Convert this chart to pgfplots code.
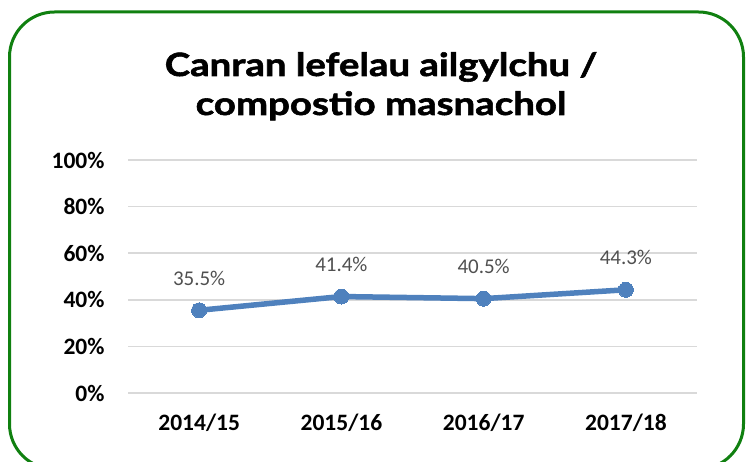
\documentclass[border=0pt]{standalone}
\usepackage{fontspec}
\setmainfont{Carlito}
\newfontfamily\titlefont[FakeStretch=1.2,BoldFeatures={FakeBold=1.8}]{Lato}
\usepackage{pgfplots}
\pgfplotsset{compat=1.18}
\definecolor{lineblue}{RGB}{79,129,189}
\definecolor{gridgray}{RGB}{217,217,217}
\definecolor{framegreen}{RGB}{16,128,16}
\definecolor{labelgray}{RGB}{80,80,80}
\begin{document}
\begin{tikzpicture}
\useasboundingbox (0,0) rectangle (747pt,461pt);
\draw[framegreen, line width=3pt, rounded corners=45pt] (9.5pt,-8pt) rectangle (743.5pt,449pt);
\node[anchor=base, font=\titlefont\bfseries\fontsize{32}{38}\selectfont, inner sep=0pt] at (381pt,385pt) {Canran lefelau ailgylchu /};
\node[anchor=base, font=\titlefont\bfseries\fontsize{32}{38}\selectfont, inner sep=0pt] at (381pt,346pt) {compostio masnachol};
\begin{axis}[
  at={(128pt,68pt)}, anchor=south west,
  scale only axis, width=569pt, height=233pt,
  xmin=-0.5, xmax=3.5, ymin=0, ymax=100,
  axis line style={draw=none},
  major tick length=0pt,
  ymajorgrids, grid style={gridgray, line width=1.5pt},
  xtick={0,1,2,3},
  xticklabels={2014/15,2015/16,2016/17,2017/18},
  ytick={0,20,40,60,80,100},
  yticklabels={0\%,20\%,40\%,60\%,80\%,100\%},
  ticklabel style={font=\bfseries\fontsize{23.5}{28}\selectfont, text=black},
  yticklabel style={xshift=-20pt},
  xticklabel style={yshift=-17pt},
  clip=false,
]
\addplot[color=lineblue, line width=5.5pt, mark=*, mark size=7.5pt,
  mark options={fill=lineblue, draw=lineblue, line width=0pt},
  point meta=explicit symbolic, nodes near coords,
  every node near coord/.style={anchor=center, yshift=32pt, text=labelgray, font=\fontsize{21}{25}\selectfont}]
coordinates {
  (0,35.5) [35.5\%]
  (1,41.4) [41.4\%]
  (2,40.5) [40.5\%]
  (3,44.3) [44.3\%]
};
\end{axis}
\end{tikzpicture}
\end{document}
